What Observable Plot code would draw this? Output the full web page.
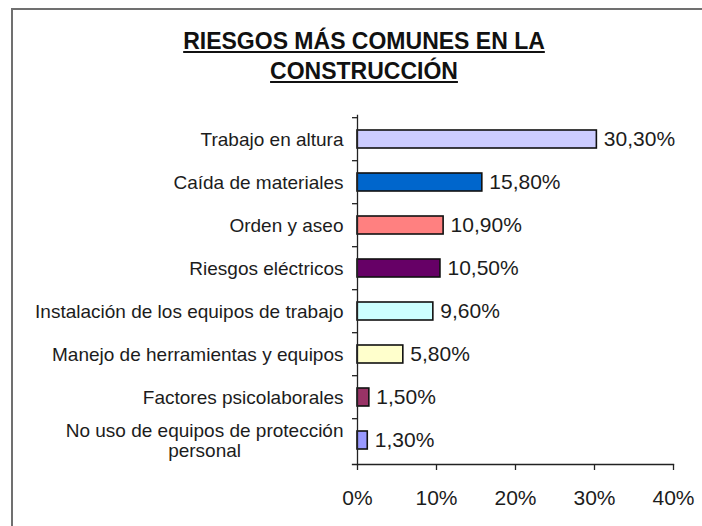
<!DOCTYPE html>
<html><head><meta charset="utf-8">
<script src="https://cdn.jsdelivr.net/npm/d3@7"></script>
<script src="https://cdn.jsdelivr.net/npm/@observablehq/plot@0.6"></script>
<style>
html,body{margin:0;padding:0;background:#fff;}
#page{position:relative;width:702px;height:526px;overflow:hidden;font-family:"Liberation Sans",Arial,sans-serif;}
#frame{position:absolute;left:11px;top:8px;width:800px;height:600px;border-left:2px solid #707070;border-top:2px solid #707070;}
#title{position:absolute;left:0;width:728px;top:26px;text-align:center;font-weight:bold;font-size:23px;line-height:30px;color:#111;text-decoration:underline;}
#chart{position:absolute;left:0;top:95px;}
</style></head>
<body><div id="page"><div id="frame"></div><div id="title"></div><div id="chart"></div></div>
<script>
const titleLines = ["RIESGOS MÁS COMUNES EN LA", "CONSTRUCCIÓN"];
const categories = [
  "Trabajo en altura",
  "Caída de materiales",
  "Orden y aseo",
  "Riesgos eléctricos",
  "Instalación de los equipos de trabajo",
  "Manejo de herramientas y equipos",
  "Factores psicolaborales",
  "No uso de equipos de protección\npersonal"
];
const values = [30.3, 15.8, 10.9, 10.5, 9.6, 5.8, 1.5, 1.3];
const colors = ["#CCCCFF", "#0066CC", "#FF8080", "#660066", "#CCFFFF", "#FFFFCC", "#993366", "#9999FF"];
const xTicks = [0, 10, 20, 30, 40];

document.getElementById("title").innerHTML = titleLines.join("<br>");

const data = categories.map((c, i) => ({cat: c, value: values[i], color: colors[i]}));

const W = 702, H = 431, mT = 20, mB = 62, mL = 357, mR = 29;
const step = (H - mT - mB) / categories.length;
const pInner = 0.585;
const font = "Liberation Sans, Arial, sans-serif";

// measure wrapped label width
const ctx = document.createElement("canvas").getContext("2d");
ctx.font = "19px 'Liberation Sans', Arial, sans-serif";
const multi = categories.filter(c => c.includes("\n"));
const multiOffset = c => Math.max(...c.split("\n").map(s => ctx.measureText(s).width)) / 2;

const fmt = v => v.toFixed(2).replace(".", ",") + "%";

const marks = [
  Plot.barX(data, {y: "cat", x: "value", fill: "color", stroke: "#111", strokeWidth: 1.6}),
  Plot.frame({anchor: "left", stroke: "#222", strokeWidth: 1.3}),
  Plot.frame({anchor: "bottom", stroke: "#222", strokeWidth: 1.3, insetLeft: -5}),
  Plot.axisY({tickSize: 5, text: null, dy: -step / 2, stroke: "#222", strokeWidth: 1.3}),
  Plot.axisY({tickSize: 0, tickPadding: 14, fontSize: 19, fill: "#1c1c1c",
    tickFormat: d => d.includes("\n") ? "" : d}),
  ...multi.map(c => Plot.text([c], {y: d => d, x: 0, text: d => d, textAnchor: "middle",
    dx: -(14 + multiOffset(c)), fontSize: 19, fill: "#1c1c1c", lineHeight: 1.07})),
  Plot.axisX({ticks: xTicks, tickSize: 6, tickPadding: 20, fontSize: 21, fill: "#1c1c1c",
    stroke: "#222", strokeWidth: 1.3, tickFormat: d => d + "%"}),
  Plot.text(data, {y: "cat", x: "value", text: d => fmt(d.value), textAnchor: "start", dx: 7,
    fontSize: 21, fill: "#1c1c1c"})
];

const chart = Plot.plot({
  width: W, height: H,
  marginTop: mT, marginBottom: mB, marginLeft: mL, marginRight: mR,
  style: {fontFamily: font, background: "transparent", overflow: "visible"},
  x: {domain: [0, 40], label: null},
  y: {domain: categories, label: null, paddingInner: pInner, paddingOuter: pInner / 2},
  marks
});
document.getElementById("chart").appendChild(chart);
</script>
</body></html>
